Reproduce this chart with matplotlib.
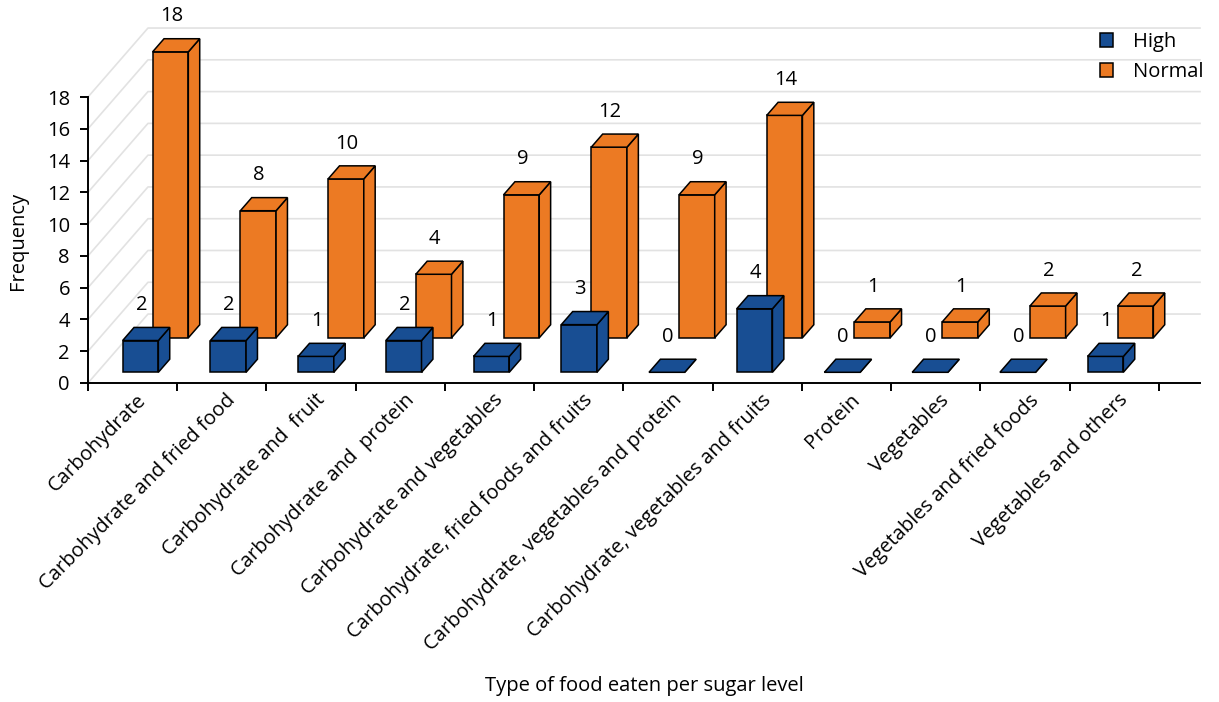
import matplotlib.pyplot as plt
from matplotlib.patches import Polygon, Patch

plt.rcParams['font.family'] = ['Open Sans', 'DejaVu Sans']
FS = 14.5

categories = ['Carbohydrate', 'Carbohydrate and fried food', 'Carbohydrate and  fruit',
              'Carbohydrate and  protein', 'Carbohydrate and vegetables',
              'Carbohydrate, fried foods and fruits', 'Carbohydrate, vegetables and protein',
              'Carbohydrate, vegetables and fruits', 'Protein', 'Vegetables',
              'Vegetables and fried foods', 'Vegetables and others']
high = [2, 2, 1, 2, 1, 3, 0, 4, 0, 0, 0, 1]
normal = [18, 8, 10, 4, 9, 12, 9, 14, 1, 1, 2, 2]
series = ['High', 'Normal']
colors = ['#184e93', '#ec7a23']
yticks = list(range(0, 19, 2))

# fake 3d: depth vector of the back wall in data units
WALL_DX, WALL_DY = 0.672, 4.34
X0, PITCH = 0.484, 0.983     # category base positions
BAR_W, BAR_D = 0.40, 0.19    # bar width, bar depth (fraction of wall depth)
ROW_DEPTH = [0.155, 0.655]   # front of each series row
XMAX = 12.46


def draw_box(ax, xc, d0, val, color):
    ox, oy = d0 * WALL_DX, d0 * WALL_DY
    bx, by = BAR_D * WALL_DX, BAR_D * WALL_DY
    x1, x2 = xc - BAR_W / 2 + ox, xc + BAR_W / 2 + ox
    y1, y2 = oy, oy + val
    faces = [
        [(x1, y1), (x2, y1), (x2, y2), (x1, y2)],
        [(x2, y1), (x2 + bx, y1 + by), (x2 + bx, y2 + by), (x2, y2)],
        [(x1, y2), (x2, y2), (x2 + bx, y2 + by), (x1 + bx, y2 + by)],
    ]
    for f in faces:
        ax.add_patch(Polygon(f, closed=True, facecolor=color, edgecolor='black',
                             lw=1.1, joinstyle='miter', clip_on=False, zorder=3))
    ax.text(xc + ox + 0.01, y2 + by + 1.4, str(val), ha='center', va='center',
            fontsize=FS, clip_on=False, zorder=5)


fig = plt.figure(figsize=(12.19, 7.02), dpi=100)
ax = fig.add_axes([88 / 1219, 1 - 383 / 702, 1112 / 1219, 286 / 702])
ax.set_xlim(0, XMAX)
ax.set_ylim(0, 18)

# back wall + floor gridlines
for v in yticks:
    ax.plot([0, WALL_DX, XMAX], [v, v + WALL_DY, v + WALL_DY], color='#e2e2e2',
            lw=1.2, clip_on=False, zorder=1)

# back row first so the front row covers it
for k in [1, 0]:
    vals = [high, normal][k]
    for i, v in enumerate(vals):
        draw_box(ax, X0 + i * PITCH, ROW_DEPTH[k], v, colors[k])

for s in ['top', 'right']:
    ax.spines[s].set_visible(False)
for s in ['left', 'bottom']:
    ax.spines[s].set_linewidth(1.4)
    ax.spines[s].set_zorder(4)

ax.set_yticks(yticks)
ax.tick_params(axis='y', length=6, width=1.4, pad=7, labelsize=FS)
ax.set_xticks(range(13))
ax.set_xticklabels([])
ax.tick_params(axis='x', length=6, width=1.4)

trans = ax.get_xaxis_transform()
for i, c in enumerate(categories):
    ax.text(i + 0.5 + 0.12, -0.05, c, transform=trans, rotation=45, ha='right',
            va='center', rotation_mode='anchor', fontsize=FS)

fig.text(18 / 1219, 1 - 241 / 702, 'Frequency', rotation=90, ha='center', va='center',
         fontsize=FS)
fig.text(644 / 1219, 1 - 686 / 702, 'Type of food eaten per sugar level', ha='center',
         va='center', fontsize=FS)

handles = [Patch(facecolor=colors[k], edgecolor='black', lw=1.1) for k in range(2)]
fig.legend(handles, series, loc='upper left', bbox_to_anchor=(1100 / 1219, 1 - 32 / 702),
           frameon=False, fontsize=FS, handlelength=0.65, handleheight=0.65,
           handletextpad=1.0, labelspacing=0.5, borderpad=0, borderaxespad=0)

fig.savefig('out.png', dpi=100)
